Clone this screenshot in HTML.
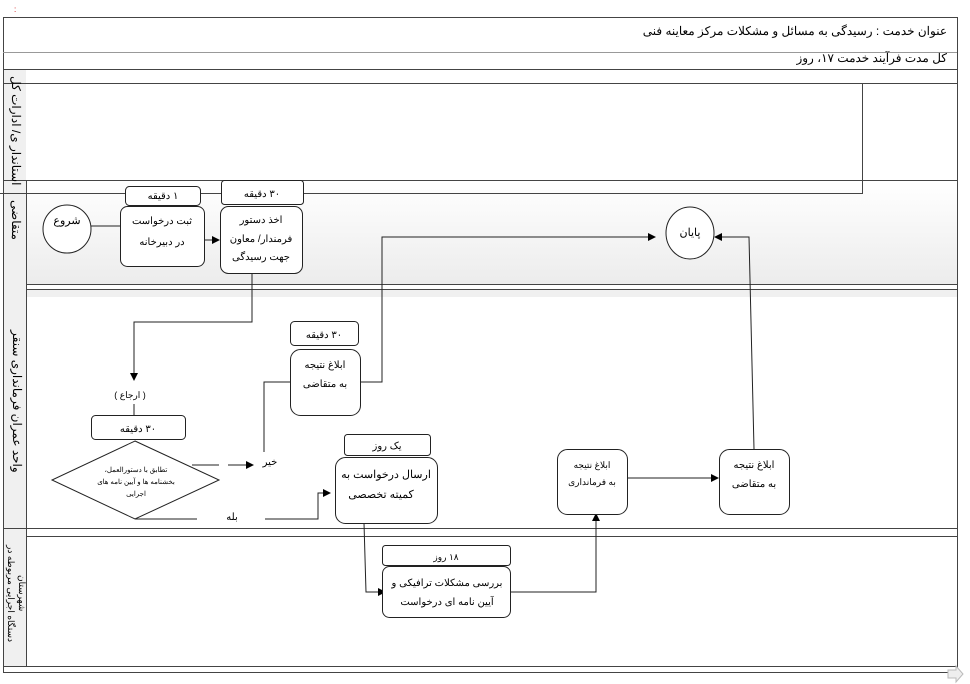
<!DOCTYPE html>
<html><head><meta charset="utf-8"><style>
html,body{margin:0;padding:0;background:#fff;}
svg{display:block;font-family:"Liberation Sans","Noto Sans CJK SC",sans-serif;}
</style></head><body>
<svg width="970" height="684" viewBox="0 0 970 684" xmlns="http://www.w3.org/2000/svg">
<defs>
<marker id="a" markerWidth="8" markerHeight="8" refX="7" refY="4" orient="auto" markerUnits="userSpaceOnUse"><path d="M0,0 L8,4 L0,8 z" fill="#000"/></marker>
<linearGradient id="g" x1="0" y1="0" x2="0" y2="1"><stop offset="0" stop-color="#fff"/><stop offset="1" stop-color="#ececec"/></linearGradient>
</defs>
<text x="14" y="12" font-size="8" fill="#c00">:</text>
<rect x="3.5" y="17.5" width="954" height="655" fill="none" stroke="#444"/>
<line x1="3" y1="52.5" x2="957" y2="52.5" stroke="#999"/>
<line x1="3" y1="69.5" x2="957" y2="69.5" stroke="#444"/>
<line x1="3" y1="83.5" x2="957" y2="83.5" stroke="#444"/>
<text x="947" y="35" font-size="12" text-anchor="start" direction="rtl">عنوان خدمت : رسیدگی به مسائل و مشکلات مرکز معاینه فنی</text>
<text x="947" y="62" font-size="12" text-anchor="start" direction="rtl">کل مدت فرآیند خدمت ۱۷، روز</text>
<rect x="4" y="70" width="22" height="596" fill="#f0f0f0"/>
<line x1="26.5" y1="180" x2="26.5" y2="666" stroke="#444"/>
<rect x="27" y="181" width="930" height="103" fill="url(#g)"/>
<line x1="3" y1="180.5" x2="957" y2="180.5" stroke="#444"/>
<line x1="27" y1="284.5" x2="957" y2="284.5" stroke="#444"/>
<line x1="27" y1="289.5" x2="957" y2="289.5" stroke="#444"/>
<rect x="27" y="290" width="930" height="7" fill="#f0f0f0"/>
<line x1="3" y1="528.5" x2="957" y2="528.5" stroke="#444"/>
<line x1="27" y1="536.5" x2="957" y2="536.5" stroke="#444"/>
<line x1="3" y1="666.5" x2="957" y2="666.5" stroke="#444"/>
<polyline points="3,83.5 862.5,83.5 862.5,193.5 0,193.5" fill="none" stroke="#444"/>
<text transform="translate(12,76) rotate(90)" font-size="12" direction="rtl" text-anchor="end">استاندار ی/ ادارات کل</text>
<text transform="translate(12,200) rotate(90)" font-size="12" direction="rtl" text-anchor="end">متقاضی</text>
<text transform="translate(13,330) rotate(90)" font-size="12" direction="rtl" text-anchor="end">واحد عمران فرمانداری سنقر</text>
<text transform="translate(8,545) rotate(90)" font-size="9" direction="rtl" text-anchor="end">دستگاه اجرایی مربوطه در</text>
<text transform="translate(19,575) rotate(90)" font-size="9" direction="rtl" text-anchor="end">شهرستان</text>
<ellipse cx="67" cy="229" rx="24" ry="24" fill="#fff" stroke="#222"/>
<text x="67" y="224" font-size="11" text-anchor="middle">شروع</text>
<line x1="91" y1="226" x2="120" y2="226" stroke="#222"/>
<rect x="125.5" y="186.5" width="75" height="19" rx="4" fill="#fff" stroke="#222"/>
<text x="163" y="199" font-size="10" text-anchor="middle" direction="rtl">۱ دقیقه</text>
<rect x="120.5" y="206.5" width="84" height="60" rx="7" fill="#fff" stroke="#222"/>
<text x="162" y="224" font-size="10" text-anchor="middle" direction="rtl">ثبت درخواست</text>
<text x="162" y="245" font-size="10" text-anchor="middle" direction="rtl">در دبیرخانه</text>
<line x1="204" y1="240" x2="219" y2="240" stroke="#222" marker-end="url(#a)"/>
<rect x="221.5" y="180.5" width="82" height="24" rx="3" fill="#fff" stroke="#222"/>
<text x="262" y="197" font-size="10" text-anchor="middle" direction="rtl">۳۰ دقیقه</text>
<rect x="220.5" y="206.5" width="82" height="67" rx="8" fill="#fff" stroke="#222"/>
<text x="261" y="223" font-size="10" text-anchor="middle" direction="rtl">اخذ دستور</text>
<text x="261" y="242" font-size="10" text-anchor="middle" direction="rtl">فرمندار/ معاون</text>
<text x="261" y="260" font-size="10" text-anchor="middle" direction="rtl">جهت رسیدگی</text>
<ellipse cx="690" cy="233" rx="24" ry="26" fill="#fff" stroke="#222"/>
<text x="690" y="236" font-size="11" text-anchor="middle">پایان</text>
<polyline points="252,273 252,322 134,322 134,380" fill="none" stroke="#222" marker-end="url(#a)"/>
<text x="130" y="398" font-size="9" text-anchor="middle" direction="rtl">(    ارجاع    )</text>
<line x1="134" y1="404" x2="134" y2="415" stroke="#222"/>
<rect x="91.5" y="415.5" width="94" height="24" rx="4" fill="#fff" stroke="#222"/>
<text x="138" y="432" font-size="10" text-anchor="middle" direction="rtl">۳۰ دقیقه</text>
<polygon points="135,441 219,480 135,519 52,480" fill="#fff" stroke="#222"/>
<text x="136" y="472" font-size="7" text-anchor="middle" direction="rtl">تطابق با دستورالعمل،</text>
<text x="136" y="484" font-size="7" text-anchor="middle" direction="rtl">بخشنامه ها و آیین نامه های</text>
<text x="136" y="496" font-size="7" text-anchor="middle" direction="rtl">اجرایی</text>
<line x1="192" y1="465" x2="219" y2="465" stroke="#222"/>
<line x1="228" y1="465" x2="253" y2="465" stroke="#222" marker-end="url(#a)"/>
<text x="270" y="465" font-size="10" text-anchor="middle">خیر</text>
<polyline points="264,452 264,382 290,382" fill="none" stroke="#222"/>
<rect x="290.5" y="321.5" width="68" height="24" rx="4" fill="#fff" stroke="#222"/>
<text x="324" y="338" font-size="10" text-anchor="middle" direction="rtl">۳۰ دقیقه</text>
<rect x="290.5" y="349.5" width="70" height="66" rx="10" fill="#fff" stroke="#222"/>
<text x="325" y="368" font-size="10" text-anchor="middle" direction="rtl">ابلاغ نتیجه</text>
<text x="325" y="387" font-size="10" text-anchor="middle" direction="rtl">به متقاضی</text>
<polyline points="360,382 382,382 382,237 655,237" fill="none" stroke="#222" marker-end="url(#a)"/>
<polyline points="135,519 197,519" fill="none" stroke="#222"/>
<text x="232" y="520" font-size="10" text-anchor="middle">بله</text>
<polyline points="265,519 318,519 318,493 330,493" fill="none" stroke="#222" marker-end="url(#a)"/>
<rect x="344.5" y="434.5" width="86" height="21" rx="3" fill="#fff" stroke="#222"/>
<text x="387" y="449" font-size="10" text-anchor="middle" direction="rtl">یک روز</text>
<rect x="335.5" y="457.5" width="102" height="66" rx="10" fill="#fff" stroke="#222"/>
<text x="386" y="478" font-size="11" text-anchor="middle" direction="rtl">ارسال درخواست به</text>
<text x="381" y="498" font-size="11" text-anchor="middle" direction="rtl">کمیته تخصصی</text>
<polyline points="364,523 366,592 385,592" fill="none" stroke="#222" marker-end="url(#a)"/>
<rect x="382.5" y="545.5" width="128" height="20" rx="3" fill="#fff" stroke="#222"/>
<text x="446" y="560" font-size="9" text-anchor="middle" direction="rtl">۱۸ روز</text>
<rect x="382.5" y="566.5" width="128" height="51" rx="7" fill="#fff" stroke="#222"/>
<text x="447" y="586" font-size="10" text-anchor="middle" direction="rtl">بررسی مشکلات ترافیکی و</text>
<text x="447" y="605" font-size="10" text-anchor="middle" direction="rtl">آیین نامه ای درخواست</text>
<polyline points="510,592 596,592 596,514" fill="none" stroke="#222" marker-end="url(#a)"/>
<rect x="557.5" y="449.5" width="70" height="65" rx="10" fill="#fff" stroke="#222"/>
<text x="592" y="468" font-size="9" text-anchor="middle" direction="rtl">ابلاغ نتیجه</text>
<text x="592" y="485" font-size="9" text-anchor="middle" direction="rtl">به فرمانداری</text>
<line x1="627" y1="478" x2="718" y2="478" stroke="#222" marker-end="url(#a)"/>
<rect x="719.5" y="449.5" width="70" height="65" rx="10" fill="#fff" stroke="#222"/>
<text x="754" y="468" font-size="10" text-anchor="middle" direction="rtl">ابلاغ نتیجه</text>
<text x="754" y="487" font-size="10" text-anchor="middle" direction="rtl">به متقاضی</text>
<polyline points="754,449 749,237 715,237" fill="none" stroke="#222" marker-end="url(#a)"/>
<path d="M948,670 h8 v-4 l7,8 l-7,8 v-4 h-8 z" fill="#eee" stroke="#bbb"/>
</svg>
</body></html>
